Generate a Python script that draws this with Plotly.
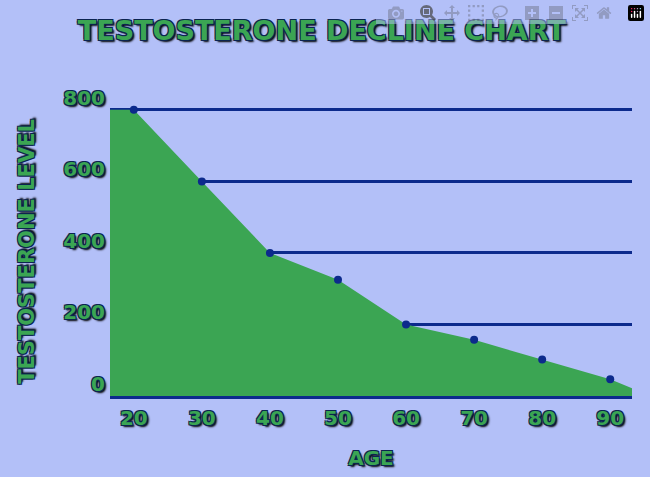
import plotly.graph_objects as go

ages = [20, 30, 40, 50, 60, 70, 80, 90]
levels = [800, 600, 400, 325, 200, 157, 102, 47]
# area outline continues past the first and last point
area_ages = [16.5] + ages + [93.2]
area_levels = [800] + levels + [22]
tick_vals = [0, 200, 400, 600, 800]

bg = '#b3c0f8'
green = '#3ba553'
navy = '#0c2a8c'
outline = '-1px -1px 0 #0b2450, 1px -1px 0 #0b2450, -1px 1px 0 #0b2450, 1px 1px 0 #0b2450, 2px 2px 2px #000'
txt = dict(family='DejaVu Sans', size=20, color=green, weight=900, shadow=outline)

fig = go.Figure()
fig.add_trace(go.Scatter(x=area_ages, y=area_levels, mode='lines', fill='tozeroy',
                         fillcolor=green, line=dict(width=0), hoverinfo='skip'))
fig.add_trace(go.Scatter(x=ages, y=levels, mode='markers', cliponaxis=False,
                         marker=dict(color=navy, size=8)))
fig.update_layout(
    width=650, height=477, showlegend=False,
    paper_bgcolor=bg, plot_bgcolor=bg,
    margin=dict(l=110, r=18, t=107, b=81),
    title=dict(text='TESTOSTERONE DECLINE CHART', x=0.495, xanchor='center', y=0.955,
               font=dict(txt, size=27)),
)
fig.update_xaxes(range=[16.5, 93.2], tickvals=ages, showgrid=False, zeroline=False,
                 tickfont=txt, ticklabelstandoff=2, showline=True, linecolor=navy, linewidth=3,
                 title=dict(text='AGE', font=txt, standoff=22))
fig.update_yaxes(range=[0, 808], tickvals=tick_vals, gridcolor=navy, gridwidth=3, zeroline=False,
                 layer='above traces', tickfont=txt, ticklabelshift=-12, ticklabelstandoff=4,
                 title=dict(text='TESTOSTERONE LEVEL', font=dict(txt, size=21), standoff=22))
fig.write_html('out.html', post_script="document.body.style.margin='0';")
